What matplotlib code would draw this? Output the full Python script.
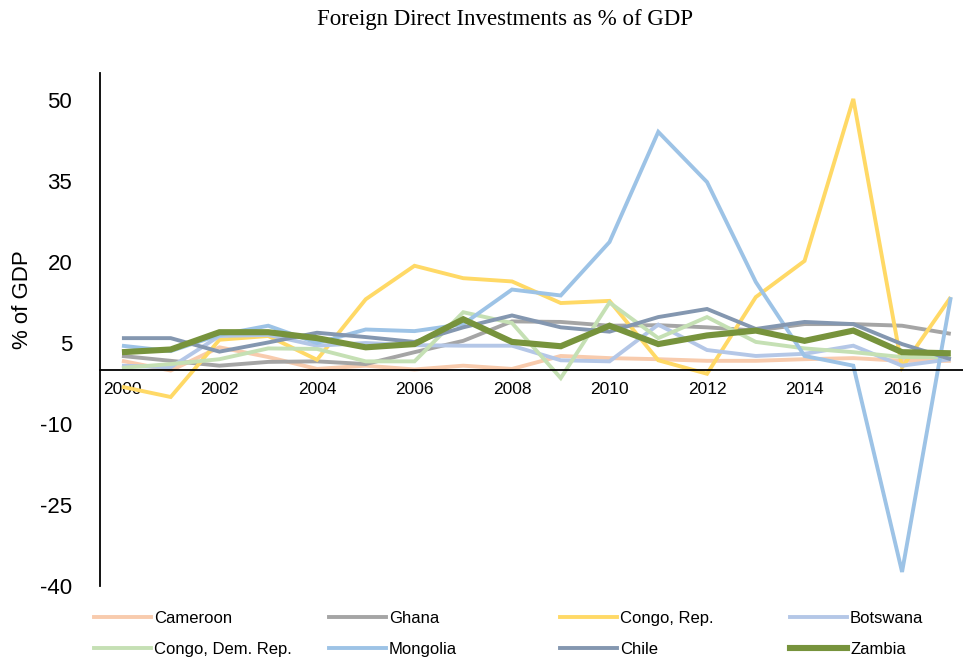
import matplotlib
matplotlib.use("Agg")
import matplotlib.pyplot as plt
from matplotlib.lines import Line2D

years = list(range(2000, 2018))

cameroon = [1.7, -0.1, 4.2, 2.4, 0.2, 0.8, 0.1, 0.8, 0.2, 2.6, 2.2, 2.0, 1.7, 1.7, 2.0, 2.2, 1.7, 1.7]
ghana = [2.6, 1.7, 0.8, 1.5, 1.6, 1.1, 3.3, 5.4, 9.0, 8.9, 8.2, 8.3, 7.9, 7.3, 8.5, 8.5, 8.2, 6.7]
congo_rep = [-3.1, -5.0, 5.6, 6.3, 1.9, 13.1, 19.3, 17.0, 16.4, 12.4, 12.8, 1.8, -0.7, 13.5, 20.2, 50.2, 0.5, 13.5]
botswana = [0.8, 0.5, 6.3, 6.5, 4.5, 5.0, 4.6, 4.5, 4.5, 1.8, 1.6, 8.4, 3.7, 2.6, 3.0, 4.5, 0.8, 2.0]
congo_dr = [0.4, 1.1, 2.0, 4.0, 3.9, 1.6, 1.6, 10.7, 8.7, -1.5, 12.5, 5.9, 9.8, 5.2, 4.0, 3.3, 2.4, 2.4]
mongolia = [4.5, 3.5, 6.5, 8.2, 5.0, 7.5, 7.2, 8.5, 14.9, 13.8, 23.7, 44.1, 34.8, 16.3, 2.6, 0.8, -37.4, 13.5]
chile = [5.9, 5.9, 3.4, 5.1, 6.9, 6.1, 5.2, 7.9, 10.1, 7.9, 7.1, 9.8, 11.3, 7.6, 8.9, 8.5, 4.8, 2.0]
zambia = [3.3, 3.8, 7.0, 7.0, 5.9, 4.2, 4.8, 9.4, 5.2, 4.4, 8.2, 4.8, 6.4, 7.3, 5.4, 7.3, 3.3, 3.1]

series_names = ["Cameroon", "Ghana", "Congo, Rep.", "Botswana",
                "Congo, Dem. Rep.", "Mongolia", "Chile", "Zambia"]
series_values = [cameroon, ghana, congo_rep, botswana,
                 congo_dr, mongolia, chile, zambia]
colors = ["#F8CBAD", "#A5A5A5", "#FFD966", "#B4C7E7",
          "#C5E0B4", "#9DC3E6", "#8497B0", "#77933C"]
widths = [2.8, 2.8, 2.8, 2.8, 2.8, 2.8, 2.8, 4.4]

y_ticks = [-40, -25, -10, 5, 20, 35, 50]
x_ticks = list(range(2000, 2017, 2))

sans = ["Liberation Sans", "DejaVu Sans"]

fig = plt.figure(figsize=(9.63, 6.61), dpi=100)
ax = fig.add_axes([100 / 963, 75 / 661, 863 / 963, 513 / 661])

for name, vals, c, w in zip(series_names, series_values, colors, widths):
    ax.plot(years, vals, color=c, lw=w, label=name, solid_joinstyle="miter",
            solid_capstyle="butt")

ax.set_xlim(1999.55, 2017.25)
ax.set_ylim(-40, 55)

for side in ("top", "right"):
    ax.spines[side].set_visible(False)
ax.spines["bottom"].set_position(("data", 0))
ax.spines["bottom"].set_linewidth(1.3)
ax.spines["left"].set_linewidth(1.3)

ax.set_yticks(y_ticks)
ax.set_yticklabels([str(v) for v in y_ticks], family=sans, fontsize=16)
ax.set_xticks(x_ticks)
ax.set_xticklabels([str(v) for v in x_ticks], family=sans, fontsize=12.5)
ax.tick_params(axis="y", length=0, pad=20)
ax.tick_params(axis="x", length=0, pad=9)

fig.text(22 / 963, 1 - 300 / 661, "% of GDP", rotation=90, ha="center",
         va="center", family=sans, fontsize=16)
fig.text(505 / 963, 1 - 19 / 661, "Foreign Direct Investments as % of GDP",
         ha="center", va="center", family=["Liberation Serif", "DejaVu Serif"],
         fontsize=16.5)

# legend: 4 evenly spaced columns, two entries each, filled row by row
ncol = 4
col_x = [94, 329, 560, 790]
for c in range(ncol):
    idx = [c, c + ncol]
    handles = [Line2D([], [], color=colors[i], lw=widths[i]) for i in idx]
    labels = [series_names[i] for i in idx]
    fig.legend(handles, labels, loc="upper left",
               bbox_to_anchor=(col_x[c] / 963, 1 - 611 / 661),
               frameon=False, handlelength=3.4, handletextpad=0.2,
               borderaxespad=0.0, borderpad=0.0, labelspacing=0.95,
               prop={"family": ["Liberation Sans Narrow", "Liberation Sans"], "size": 12})

fig.savefig("out.png", dpi=100)
